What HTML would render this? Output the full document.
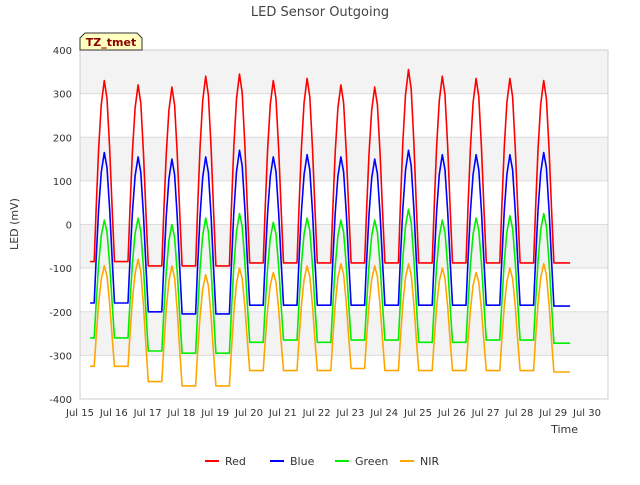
<!DOCTYPE html>
<html><head><meta charset="utf-8"><style>
body{margin:0;background:#fff;font-family:"Liberation Sans","DejaVu Sans",sans-serif}
svg text{font-family:"DejaVu Sans","Liberation Sans",sans-serif}
</style></head><body>
<svg id="c" width="640" height="480" xmlns="http://www.w3.org/2000/svg">
<rect width="640" height="480" fill="#fff"/>
<g id="bands"></g><g id="grid"></g>
<text x="320" y="16" text-anchor="middle" font-size="13" fill="#444">LED Sensor Outgoing</text>
<text transform="translate(18,224) rotate(-90)" text-anchor="middle" font-size="11" fill="#333">LED (mV)</text>
<text x="578" y="433" text-anchor="end" font-size="11" fill="#333">Time</text>
<g id="ticks"></g><g id="series"></g>
<g>
<path d="M80,50 L80,38 L85,33 L137,33 L142,38 L142,50 Z" fill="#ffffc0" stroke="#333"/>
<text x="111" y="46" text-anchor="middle" font-size="11" font-weight="bold" fill="#8b0000">TZ_tmet</text></g>
<g id="legend"></g>
</svg>
<script>
const seriesNames=["Red","Blue","Green","NIR"];
const seriesColors=["#ff0000","#0000ff","#00ee00","#ffa500"];
const yTicks=[-400,-300,-200,-100,0,100,200,300,400];
const xTickLabels=["Jul 15","Jul 16","Jul 17","Jul 18","Jul 19","Jul 20","Jul 21","Jul 22","Jul 23","Jul 24","Jul 25","Jul 26","Jul 27","Jul 28","Jul 29","Jul 30"];
const redPeaks=[330,320,315,340,345,330,335,320,315,355,340,335,335,330];
const redBase=[-85,-85,-95,-95,-95,-88,-88,-88,-88,-88,-88,-88,-88,-88,-88];
const bluePeaks=[165,155,150,155,170,155,160,155,150,170,160,160,160,165];
const blueBase=[-180,-180,-200,-205,-205,-185,-185,-185,-185,-185,-185,-185,-185,-185,-187];
const greenPeaks=[10,15,0,15,25,5,15,10,10,35,10,15,20,25];
const greenBase=[-260,-260,-290,-295,-295,-270,-265,-270,-265,-265,-270,-270,-265,-265,-272];
const nirPeaks=[-95,-80,-95,-115,-100,-110,-95,-90,-95,-90,-100,-110,-100,-90];
const nirBase=[-325,-325,-360,-370,-370,-335,-335,-335,-330,-335,-335,-335,-335,-335,-338];
const profileT=[0.42,0.48,0.55,0.63,0.72,0.8,0.88,0.95,1.02];
const profileF=[0,0.3,0.62,0.87,1,0.9,0.62,0.3,0];
const NS="http://www.w3.org/2000/svg";
const L=80,R=608,T=50,B=399;
const x=d=>80+(d-15)*33.8;
const y=v=>T+(400-v)/800*(B-T);
function mk(t,a,p){const e=document.createElementNS(NS,t);for(const k in a)e.setAttribute(k,a[k]);document.getElementById(p).appendChild(e);return e;}
for(let i=0;i<yTicks.length-1;i++){
 const b=mk('rect',{x:L,y:y(yTicks[i+1]),width:R-L,height:y(yTicks[i])-y(yTicks[i+1]),fill:i%2?'#f3f3f3':'#fff'},'bands');
 
 
}
yTicks.forEach(v=>{
 const g=mk('line',{x1:L,x2:R,y1:y(v),y2:y(v),stroke:'#ddd'},'grid');
 
 
 const t=mk('text',{x:72,y:y(v)+4,'text-anchor':'end','font-size':10,fill:'#333'},'ticks');t.textContent=v;
 
 
});
mk('rect',{x:L,y:T,width:R-L,height:B-T,fill:'none',stroke:'#ccc'},'grid');
xTickLabels.forEach((s,i)=>{
 const t=mk('text',{x:x(15+i),y:416,'text-anchor':'middle','font-size':10,fill:'#333'},'ticks');t.textContent=s;
 
 
});
const allPeaks=[redPeaks,bluePeaks,greenPeaks,nirPeaks],allBase=[redBase,blueBase,greenBase,nirBase];
seriesNames.forEach((n,s)=>{
 const pk=allPeaks[s],bs=allBase[s];let pts=[[15.3,bs[0]]];
 pk.forEach((p,i)=>{const d=15+i;
  profileT.forEach((t,j)=>{const base=j<4?bs[i]:bs[i+1];pts.push([d+t,base+(p-base)*profileF[j]]);});
 });
 pts.push([29.5,bs[bs.length-1]]);
 const pl=mk('polyline',{points:pts.map(q=>x(q[0]).toFixed(1)+','+y(q[1]).toFixed(1)).join(' '),fill:'none',stroke:seriesColors[s],'stroke-width':1.6,'stroke-linejoin':'round'},'series');
 
 
 const lx=205+s*65;
 const ll=mk('line',{x1:lx,x2:lx+14,y1:461,y2:461,stroke:seriesColors[s],'stroke-width':2},'legend');
 
 
 const lt=mk('text',{x:lx+20,y:465,'font-size':11,fill:'#333'},'legend');lt.textContent=n;
 
 
});
</script>
</body></html>
